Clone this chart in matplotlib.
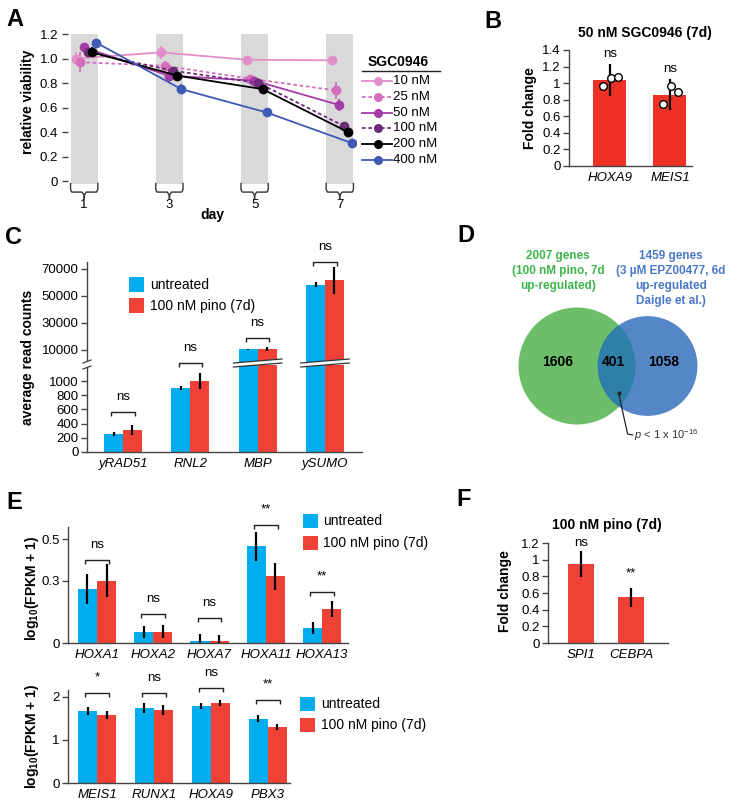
import numpy as np
import matplotlib
matplotlib.use("Agg")
import matplotlib.pyplot as plt
from matplotlib.lines import Line2D
from matplotlib.patches import Rectangle, Circle, Polygon
from matplotlib.transforms import blended_transform_factory

plt.rcParams['font.family'] = ['Liberation Sans', 'DejaVu Sans']
plt.rcParams['font.size'] = 9.5
plt.rcParams['mathtext.fontset'] = 'custom'
plt.rcParams['mathtext.rm'] = 'Liberation Sans'
plt.rcParams['mathtext.it'] = 'Liberation Sans:italic'
plt.rcParams['mathtext.bf'] = 'Liberation Sans:bold'
plt.rcParams['axes.linewidth'] = 1.0

# ---------------- data ----------------
# A: relative viability
days = [1, 3, 5, 7]
conc = ['10 nM', '25 nM', '50 nM', '100 nM', '200 nM', '400 nM']
via_10nM = [1.00, 1.05, 0.99, 0.985]
via_25nM = [0.97, 0.94, 0.835, 0.74]
via_50nM = [1.09, 0.86, 0.82, 0.62]
via_100nM = [1.05, 0.90, 0.80, 0.45]
via_200nM = [1.05, 0.86, 0.75, 0.40]
via_400nM = [1.13, 0.75, 0.56, 0.31]
sd_10nM = [0.05, 0.05, 0.02, 0.02]
sd_25nM = [0.08, 0.04, 0.03, 0.07]
sd_50nM = [0.03, 0.05, 0.02, 0.05]
sd_100nM = [0.03, 0.02, 0.02, 0.03]
sd_200nM = [0.04, 0.02, 0.02, 0.04]
sd_400nM = [0.01, 0.04, 0.04, 0.01]

# B: 50 nM SGC0946
b_genes = ['HOXA9', 'MEIS1']
b_fc = [1.04, 0.86]
b_err = [0.19, 0.19]
b_reps = [[0.96, 1.06, 1.08], [0.75, 0.96, 0.89]]
b_sig = ['ns', 'ns']

# C: spike-in read counts
c_genes = ['yRAD51', 'RNL2', 'MBP', 'ySUMO']
c_untr = [250, 900, 10500, 58500]
c_untr_err = [25, 25, 600, 1500]
c_pino = [310, 1000, 10900, 61500]
c_pino_err = [65, 115, 1500, 9800]
c_sig = ['ns', 'ns', 'ns', 'ns']

# D: venn
venn_a = 2007
venn_b = 1459
venn_ab = 401

# E: FPKM
e1_genes = ['HOXA1', 'HOXA2', 'HOXA7', 'HOXA11', 'HOXA13']
e1_untr = [0.26, 0.053, 0.012, 0.466, 0.072]
e1_untr_err = [0.07, 0.03, 0.03, 0.07, 0.03]
e1_pino = [0.30, 0.055, 0.010, 0.322, 0.163]
e1_pino_err = [0.08, 0.03, 0.03, 0.065, 0.04]
e1_sig = ['ns', 'ns', 'ns', '**', '**']

e2_genes = ['MEIS1', 'RUNX1', 'HOXA9', 'PBX3']
e2_untr = [1.67, 1.74, 1.79, 1.49]
e2_untr_err = [0.10, 0.12, 0.07, 0.08]
e2_pino = [1.58, 1.70, 1.86, 1.30]
e2_pino_err = [0.10, 0.12, 0.07, 0.08]
e2_sig = ['*', 'ns', 'ns', '**']

# F: 100 nM pino
f_genes = ['SPI1', 'CEBPA']
f_fc = [0.95, 0.55]
f_err = [0.155, 0.115]
f_sig = ['ns', '**']

# ---------------- layout helpers ----------------
W, H = 743, 809
fig = plt.figure(figsize=(W / 100, H / 100), dpi=100)

BLUE = '#00aeef'
RED = '#ef4136'
DARK = '#222222'


def px_ax(l, t, r, b):
    return fig.add_axes([l / W, 1 - b / H, (r - l) / W, (b - t) / H])


def ptext(x, y, s, **kw):
    kw.setdefault('ha', 'center')
    kw.setdefault('va', 'center')
    fig.text(x / W, 1 - y / H, s, **kw)


def pline(xs, ys, **kw):
    fig.add_artist(Line2D([x / W for x in xs], [1 - y / H for y in ys],
                          transform=fig.transFigure, **kw))


def prect(x, y, w, h, color):
    fig.add_artist(Rectangle((x / W, 1 - (y + h) / H), w / W, h / H,
                             transform=fig.transFigure, color=color, lw=0))


def px2dy(ax, px):
    lo, hi = ax.get_ylim()
    return px * (hi - lo) / (ax.get_position().height * H)


def bracket(ax, xc, half, y, label, tick=4, gap=11):
    h = px2dy(ax, tick)
    ax.plot([xc - half, xc - half, xc + half, xc + half], [y - h, y, y, y - h],
            color=DARK, lw=1, clip_on=False, solid_capstyle='butt')
    ax.annotate(label, xy=(xc, y), xytext=(0, gap), textcoords='offset points',
                ha='center', va='center', fontsize=9.5, annotation_clip=False)


def style_bar_ax(ax, left=True, bottom=True):
    for s in ['top', 'right']:
        ax.spines[s].set_visible(False)
    ax.spines['left'].set_visible(left)
    ax.spines['bottom'].set_visible(bottom)
    for s in ['left', 'bottom']:
        ax.spines[s].set_color('#444444')
    ax.tick_params(axis='y', length=4, width=1, color='#444444', pad=2, labelsize=9.5)
    ax.tick_params(axis='x', length=0, pad=4, labelsize=9.5)


def grouped_bars(ax, untr, untr_err, pino, pino_err, w, show=None):
    x = np.arange(len(untr))
    if show is None:
        show = [True] * len(untr)
    for i in range(len(untr)):
        if not show[i]:
            continue
        ax.bar(x[i] - w / 2, untr[i], w, color=BLUE, lw=0)
        ax.bar(x[i] + w / 2, pino[i], w, color=RED, lw=0)
        ax.errorbar(x[i] - w / 2, untr[i], yerr=untr_err[i], fmt='none',
                    ecolor='black', elinewidth=1.6, capsize=0)
        ax.errorbar(x[i] + w / 2, pino[i], yerr=pino_err[i], fmt='none',
                    ecolor='black', elinewidth=1.6, capsize=0)
    return x


# panel letters
for lab, (lx, ly) in {'A': (15, 20), 'B': (493, 21), 'C': (14, 238), 'D': (466, 235),
                      'E': (14, 503), 'F': (464, 500)}.items():
    ptext(lx, ly, lab, fontsize=17, weight='bold')

# ---------------- A ----------------
axA = px_ax(68, 34, 356, 183.5)
axA.set_xlim(0.62, 7.38)
axA.set_ylim(-0.02, 1.2)
series = [via_10nM, via_25nM, via_50nM, via_100nM, via_200nM, via_400nM]
errs = [sd_10nM, sd_25nM, sd_50nM, sd_100nM, sd_200nM, sd_400nM]
colors = ['#e28fc9', '#d46dbd', '#a43ca6', '#6c2c78', '#000000', '#3f5ab4']
styles = ['-', (0, (2, 1.5)), '-', (0, (2, 1.5)), '-', '-']
offsets = [-0.19, -0.10, -0.01, 0.09, 0.19, 0.28]

for d in days:
    axA.axvspan(d - 0.32, d + 0.32, color='#d9d9d9', lw=0, zorder=0)
    bx = [d - 0.32, d - 0.32, d - 0.29, d - 0.05, d - 0.01, d,
          d + 0.01, d + 0.05, d + 0.29, d + 0.32, d + 0.32]
    by = [-0.02, -0.07, -0.09, -0.09, -0.11, -0.14,
          -0.11, -0.09, -0.09, -0.07, -0.02]
    axA.plot(bx[:6], by[:6], color='#333333', lw=1, clip_on=False)
    axA.plot(bx[5:], by[5:], color='#333333', lw=1, clip_on=False)
    axA.text(d, -0.195, str(d), ha='center', va='center', fontsize=9.5)

for vals, er, col, ls, off in zip(series, errs, colors, styles, offsets):
    x = np.array(days) + off
    axA.errorbar(x, vals, yerr=er, color=col, ls=ls, lw=1.3, marker='o', ms=6,
                 elinewidth=1.3, capsize=0, zorder=3)

axA.text(4.0, -0.28, 'day', ha='center', va='center', fontsize=10, weight='bold')
axA.set_yticks([0, 0.2, 0.4, 0.6, 0.8, 1.0, 1.2])
axA.set_yticklabels(['0', '0.2', '0.4', '0.6', '0.8', '1.0', '1.2'])
axA.set_xticks([])
for s in axA.spines.values():
    s.set_visible(False)
axA.tick_params(axis='y', length=4, width=1, color='#444444', pad=3, labelsize=9.5)
ptext(28, 102, 'relative viability', rotation=90, fontsize=10, weight='bold')

# legend A
ptext(368, 62, 'SGC0946', ha='left', fontsize=10, weight='bold')
pline([362, 440], [71, 71], color=DARK, lw=1)
for i, (lab, col, ls) in enumerate(zip(conc, colors, styles)):
    ly = 81 + i * 15.8
    pline([362, 392], [ly, ly], color=col, lw=1.3, ls=ls)
    pline([378], [ly], color=col, marker='o', ms=5.5, lw=0)
    ptext(393, ly, lab, ha='left', fontsize=9.5)

# ---------------- B ----------------
axB = px_ax(569, 50, 692, 166)
axB.set_xlim(-0.683, 1.367)
axB.set_ylim(0, 1.4)
xb = np.arange(len(b_genes))
axB.bar(xb, b_fc, 0.55, color='#ee3124', lw=0)
axB.errorbar(xb, b_fc, yerr=b_err, fmt='none', ecolor='black', elinewidth=1.6, capsize=0)
for i, reps in enumerate(b_reps):
    axB.scatter(xb[i] + np.array([-0.12, 0.02, 0.13]), reps, s=30, facecolor='white',
                edgecolor='black', lw=1, zorder=4)
for i, s in enumerate(b_sig):
    axB.annotate(s, xy=(xb[i], b_fc[i] + b_err[i]), xytext=(0, 7.5),
                 textcoords='offset points', ha='center', va='center',
                 annotation_clip=False)
style_bar_ax(axB)
axB.set_yticks([0, 0.2, 0.4, 0.6, 0.8, 1, 1.2, 1.4])
axB.set_yticklabels(['0', '0.2', '0.4', '0.6', '0.8', '1', '1.2', '1.4'])
axB.set_xticks(xb)
axB.set_xticklabels(b_genes, style='italic')
ptext(645, 33, '50 nM SGC0946 (7d)', fontsize=10, weight='bold')
ptext(530, 108, 'Fold change', rotation=90, fontsize=10, weight='bold')

# ---------------- C ----------------
up_lo = 10000 - 15 * 60000 / 81
up_hi = 70000 + 7 * 60000 / 81
lo_hi = 87 * 1000 / 71
axCu = px_ax(87, 262, 362, 365)
axCl = px_ax(87, 365, 362, 452)
axCu.set_ylim(up_lo, up_hi)
axCl.set_ylim(0, lo_hi)
wC = 0.28
for ax in (axCu, axCl):
    ax.set_xlim(-0.535, 3.55)
show_up = [max(u, p) > lo_hi for u, p in zip(c_untr, c_pino)]
xc = grouped_bars(axCl, c_untr, c_untr_err, c_pino, c_pino_err, wC)
grouped_bars(axCu, c_untr, c_untr_err, c_pino, c_pino_err, wC, show=show_up)
style_bar_ax(axCu, left=True, bottom=False)
style_bar_ax(axCl, left=True, bottom=True)
axCu.set_xticks([])
axCu.set_yticks([10000, 30000, 50000, 70000])
axCu.set_yticklabels(['10000', '30000', '50000', '70000'])
axCl.set_yticks([0, 200, 400, 600, 800, 1000])
axCl.set_xticks(xc)
axCl.set_xticklabels(c_genes, style='italic')
c_bracket_y = [(axCl, 563), (axCl, 1253), (axCu, 18900), (axCu, 75200)]
for i, (ax, by) in enumerate(c_bracket_y):
    bracket(ax, xc[i], 0.62 * wC, by, c_sig[i])

# axis break marks
yb = 1 - 365 / H
tr = blended_transform_factory(axCl.transData, fig.transFigure)
for i, up in enumerate(show_up):
    if not up:
        continue
    x0, x1 = xc[i] - 0.36, xc[i] + 0.36
    d1, d2 = 2.0 / H, 2.0 / H
    poly = Polygon([[x0, yb + d1], [x1, yb + d1 + 4 / H], [x1, yb - d2 + 4 / H], [x0, yb - d2]],
                   closed=True, transform=tr, facecolor='white', edgecolor='none', zorder=5)
    fig.add_artist(poly)
    fig.add_artist(Line2D([x0, x1], [yb + d1, yb + d1 + 4 / H], transform=tr, color='#333333', lw=0.9, zorder=6))
    fig.add_artist(Line2D([x0, x1], [yb - d2, yb - d2 + 4 / H], transform=tr, color='#333333', lw=0.9, zorder=6))
fig.add_artist(Polygon([[83 / W, yb + 2 / H], [91 / W, yb + 5 / H], [91 / W, yb - 1 / H], [83 / W, yb - 4 / H]],
                       closed=True, transform=fig.transFigure, facecolor='white', edgecolor='none', zorder=5))
pline([83, 91], [363, 360], color='#444444', lw=0.9, zorder=6)
pline([83, 91], [369, 366], color='#444444', lw=0.9, zorder=6)

prect(129, 277, 15, 15, BLUE)
prect(129, 298, 15, 15, RED)
ptext(150, 285, 'untreated', ha='left', fontsize=10)
ptext(150, 306, '100 nM pino (7d)', ha='left', fontsize=10)
ptext(28, 357, 'average read counts', rotation=90, fontsize=10, weight='bold')

# ---------------- D ----------------
px_per_gene = np.pi * 58.5 ** 2 / venn_a
r1 = np.sqrt(venn_a * px_per_gene / np.pi)
r2 = np.sqrt(venn_b * px_per_gene / np.pi)


def lens_area(d, ra, rb):
    a1 = ra ** 2 * np.arccos((d ** 2 + ra ** 2 - rb ** 2) / (2 * d * ra))
    a2 = rb ** 2 * np.arccos((d ** 2 + rb ** 2 - ra ** 2) / (2 * d * rb))
    a3 = 0.5 * np.sqrt((-d + ra + rb) * (d + ra - rb) * (d - ra + rb) * (d + ra + rb))
    return a1 + a2 - a3


target = venn_ab * px_per_gene
lo, hi = abs(r1 - r2) + 1e-6, r1 + r2 - 1e-6
for _ in range(60):
    mid = (lo + hi) / 2
    if lens_area(mid, r1, r2) > target:
        lo = mid
    else:
        hi = mid
dv = (lo + hi) / 2

axD = px_ax(500, 300, 720, 440)
axD.set_xlim(-77, 143)
axD.set_ylim(-74, 66)
axD.axis('off')
cg = Circle((0, 0), r1, color='#6cbf68', lw=0)
cb = Circle((dv, 0), r2, color='#5587c8', lw=0)
axD.add_patch(cg)
axD.add_patch(cb)
clip = Circle((0, 0), r1, transform=axD.transData)
cl = Circle((dv, 0), r2, color='#2e80a9', lw=0)
axD.add_patch(cl)
cl.set_clip_path(clip)
axD.text((-r1 + dv - r2) / 2, 4, f'{venn_a - venn_ab}', ha='center', va='center', fontsize=10, weight='bold')
axD.text((dv - r2 + r1) / 2 - 3, 4, f'{venn_ab}', ha='center', va='center', fontsize=10, weight='bold')
axD.text((r1 + dv + r2) / 2 - 3, 4, f'{venn_b - venn_ab}', ha='center', va='center', fontsize=10, weight='bold')
lx = (dv - r2 + r1) / 2 + 2
axD.plot([lx, lx + 9, lx + 14], [-27, -68, -69], color=DARK, lw=0.9, clip_on=False)
axD.plot([lx], [-27], marker='o', ms=2, color=DARK)
axD.text(lx + 15, -69, r'$p$ < 1 x 10$^{-16}$', ha='left', va='center', fontsize=8, color='#333333')

green_t = ['2007 genes', '(100 nM pino, 7d', 'up-regulated)']
blue_t = ['1459 genes', '(3 µM EPZ00477, 6d', 'up-regulated', 'Daigle et al.)']
for i, s in enumerate(green_t):
    ptext(558, 256 + i * 15, s, fontsize=8.5, weight='bold', color='#3db54a')
for i, s in enumerate(blue_t):
    ptext(671, 256 + i * 15, s, fontsize=8.5, weight='bold', color='#4a78c8')

# ---------------- E ----------------
axE1 = px_ax(68, 527, 348, 643)
axE1.set_ylim(0, 0.558)
axE1.set_xlim(-0.516, 4.46)
wE = 0.34
xe1 = grouped_bars(axE1, e1_untr, e1_untr_err, e1_pino, e1_pino_err, wE)
style_bar_ax(axE1)
axE1.set_yticks([0, 0.3, 0.5])
axE1.set_yticklabels(['0', '0.3', '0.5'])
axE1.set_xticks(xe1)
axE1.set_xticklabels(e1_genes, style='italic')
e1_bracket_y = [0.40, 0.14, 0.12, 0.57, 0.245]
for i, by in enumerate(e1_bracket_y):
    bracket(axE1, xe1[i], 0.62 * wE, by, e1_sig[i])

axE2 = px_ax(68, 690, 290, 783)
axE2.set_ylim(0, 2.16)
axE2.set_xlim(-0.51, 3.39)
wE2 = 0.333
xe2 = grouped_bars(axE2, e2_untr, e2_untr_err, e2_pino, e2_pino_err, wE2)
style_bar_ax(axE2)
axE2.set_yticks([0, 1, 2])
axE2.set_xticks(xe2)
axE2.set_xticklabels(e2_genes, style='italic')
e2_bracket_y = [2.09, 2.09, 2.2, 1.93]
for i, by in enumerate(e2_bracket_y):
    bracket(axE2, xe2[i], 0.62 * wE2, by, e2_sig[i])

ptext(32, 588, r'$\mathbf{log_{10}}$' + '(FPKM + 1)', rotation=90, fontsize=10, weight='bold')
ptext(32, 736, r'$\mathbf{log_{10}}$' + '(FPKM + 1)', rotation=90, fontsize=10, weight='bold')

prect(303, 514, 15, 14, BLUE)
prect(303, 536, 15, 14, RED)
ptext(323, 521, 'untreated', ha='left', fontsize=10)
ptext(323, 543, '100 nM pino (7d)', ha='left', fontsize=10)
prect(300, 697, 15, 14, BLUE)
prect(300, 718, 15, 14, RED)
ptext(321, 704, 'untreated', ha='left', fontsize=10)
ptext(321, 725, '100 nM pino (7d)', ha='left', fontsize=10)

# ---------------- F ----------------
axF = px_ax(548, 543, 668, 643)
axF.set_xlim(-0.66, 1.74)
axF.set_ylim(0, 1.2)
xf = np.arange(len(f_genes))
axF.bar(xf, f_fc, 0.52, color=RED, lw=0)
axF.errorbar(xf, f_fc, yerr=f_err, fmt='none', ecolor='black', elinewidth=1.6, capsize=0)
for i, s in enumerate(f_sig):
    axF.annotate(s, xy=(xf[i], f_fc[i] + f_err[i]), xytext=(0, 6 if s == 'ns' else 10),
                 textcoords='offset points', ha='center', va='center',
                 annotation_clip=False)
style_bar_ax(axF)
axF.set_yticks([0, 0.2, 0.4, 0.6, 0.8, 1, 1.2])
axF.set_yticklabels(['0', '0.2', '0.4', '0.6', '0.8', '1', '1.2'])
axF.set_xticks(xf)
axF.set_xticklabels(f_genes, style='italic')
ptext(607, 525, '100 nM pino (7d)', fontsize=10, weight='bold')
ptext(505, 591, 'Fold change', rotation=90, fontsize=10, weight='bold')

fig.savefig('out.png', dpi=100)
